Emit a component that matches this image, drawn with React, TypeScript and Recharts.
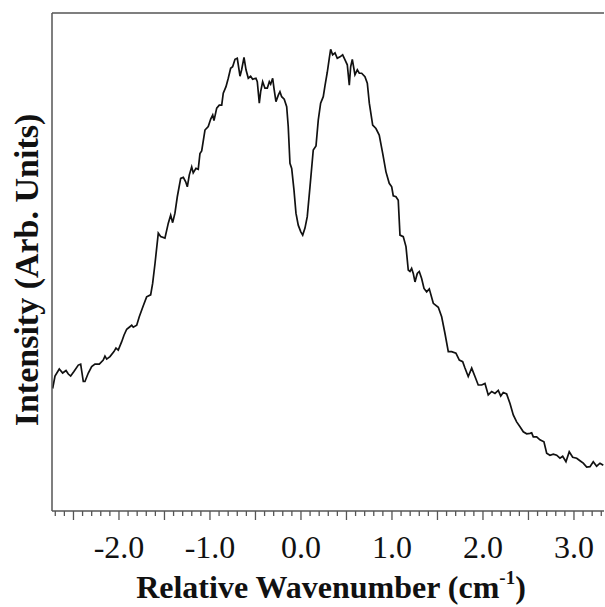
import { LineChart, Line, XAxis, YAxis, ReferenceLine } from 'recharts';

// relative wavenumber (cm^-1)
const wavenumber = [
  -2.729, -2.703, -2.656, -2.619, -2.582, -2.557, -2.531, -2.495, -2.447, -2.421,
  -2.392, -2.374, -2.337, -2.3, -2.264, -2.216, -2.173, -2.154, -2.135, -2.099,
  -2.055, -2.033, -2.008, -1.97, -1.945, -1.915, -1.887, -1.86, -1.843, -1.805,
  -1.777, -1.733, -1.696, -1.652, -1.63, -1.604, -1.568, -1.542, -1.495, -1.458,
  -1.432, -1.41, -1.385, -1.359, -1.322, -1.293, -1.267, -1.249, -1.227, -1.201,
  -1.184, -1.154, -1.129, -1.11, -1.091, -1.055, -1.019, -0.992, -0.97, -0.956,
  -0.926, -0.898, -0.871, -0.854, -0.824, -0.799, -0.773, -0.751, -0.725, -0.7,
  -0.67, -0.652, -0.626, -0.604, -0.579, -0.553, -0.531, -0.495, -0.48, -0.458,
  -0.443, -0.421, -0.396, -0.37, -0.348, -0.333, -0.311, -0.297, -0.275, -0.249,
  -0.231, -0.212, -0.184, -0.157, -0.14, -0.121, -0.102, -0.077, -0.055, -0.03,
  -0.003, 0.019, 0.044, 0.069, 0.099, 0.135, 0.165, 0.19, 0.216, 0.245,
  0.264, 0.289, 0.311, 0.326, 0.348, 0.374, 0.399, 0.429, 0.458, 0.484,
  0.509, 0.531, 0.546, 0.564, 0.593, 0.619, 0.641, 0.667, 0.703, 0.729,
  0.751, 0.788, 0.824, 0.86, 0.898, 0.934, 0.97, 0.997, 1.014, 1.044,
  1.069, 1.088, 1.124, 1.154, 1.179, 1.198, 1.216, 1.234, 1.253, 1.278,
  1.3, 1.326, 1.352, 1.381, 1.41, 1.454, 1.509, 1.546, 1.582, 1.619,
  1.656, 1.703, 1.74, 1.777, 1.802, 1.838, 1.876, 1.912, 1.948, 1.986,
  2.022, 2.058, 2.096, 2.132, 2.168, 2.195, 2.223, 2.26, 2.297, 2.333,
  2.37, 2.407, 2.443, 2.48, 2.516, 2.535, 2.553, 2.59, 2.626, 2.67,
  2.7, 2.736, 2.773, 2.81, 2.846, 2.876, 2.912, 2.948, 2.986, 3.03,
  3.066, 3.102, 3.14, 3.176, 3.212, 3.249, 3.286, 3.322,
];

// intensity, arbitrary units (0 = bottom of frame, 100 = top)
const intensity = [
  24.6, 27.1, 28.5, 27.7, 28.2, 27.5, 27.1, 28.0, 29.3, 29.5,
  26.0, 26.0, 27.7, 29.0, 29.5, 29.5, 30.3, 31.1, 30.5, 31.0,
  32.0, 32.7, 32.3, 34.0, 35.3, 36.5, 36.9, 37.3, 36.9, 37.3,
  39.0, 41.2, 43.0, 43.4, 45.7, 49.7, 55.8, 55.1, 54.8, 57.8,
  59.4, 57.9, 59.8, 63.1, 66.8, 67.0, 66.1, 65.1, 67.5, 69.1,
  67.9, 68.8, 68.6, 71.8, 72.3, 76.5, 77.2, 78.7, 79.5, 78.4,
  80.9, 81.5, 81.5, 83.9, 85.2, 86.9, 88.9, 89.2, 90.7, 90.9,
  87.3, 88.6, 91.1, 88.6, 86.9, 87.3, 86.7, 86.9, 86.2, 81.9,
  84.2, 86.2, 84.9, 84.9, 86.2, 85.7, 86.9, 84.9, 82.2, 83.5,
  84.2, 83.2, 82.7, 81.2, 77.2, 69.8, 68.8, 64.5, 59.8, 57.4,
  56.1, 55.4, 56.8, 59.1, 65.1, 72.5, 73.3, 78.5, 81.9, 83.2,
  85.4, 88.1, 90.9, 92.7, 91.6, 92.0, 90.9, 91.2, 91.6, 90.6,
  89.6, 85.5, 89.2, 90.7, 87.6, 88.6, 87.9, 87.9, 87.2, 85.9,
  81.9, 77.5, 76.8, 75.5, 71.8, 68.1, 65.8, 65.1, 63.3, 63.1,
  62.4, 55.4, 55.1, 53.1, 48.4, 48.1, 48.7, 47.7, 46.0, 47.7,
  48.1, 46.7, 44.7, 44.0, 44.6, 41.7, 40.9, 39.0, 35.7, 32.0,
  32.0, 31.7, 30.3, 30.0, 28.7, 27.0, 28.7, 27.0, 25.3, 25.3,
  25.6, 23.3, 24.0, 23.6, 24.2, 23.1, 23.8, 23.5, 21.6, 19.3,
  17.9, 16.9, 15.9, 15.5, 15.6, 15.7, 14.9, 14.9, 14.3, 13.9,
  11.6, 11.2, 11.4, 11.2, 10.6, 11.0, 9.9, 11.9, 10.8, 10.6,
  10.1, 9.6, 8.8, 8.9, 9.9, 9.0, 9.6, 9.2,
];

const xDomain = [-2.736, 3.33];
const yDomain = [0, 100];
// minor ticks every 0.1, longer ticks every 0.5, labels at whole numbers
const xTicks = Array.from({ length: 61 }, (_, i) => Math.round((-2.7 + i * 0.1) * 10) / 10);
const xLabels = [-2, -1, 0, 1, 2, 3];

const data = wavenumber.map((w, i) => ({ w, v: intensity[i] }));

const SERIF = '"Liberation Serif", "Times New Roman", serif';
const AXIS = '#555';

function XTick(props: any) {
  const { x, y, payload } = props;
  const v = payload.value as number;
  const half = Math.abs(v * 2 - Math.round(v * 2)) < 1e-6;
  const labelled = xLabels.some((l) => Math.abs(l - v) < 1e-6);
  return (
    <g>
      <line x1={x} x2={x} y1={y} y2={y + (half ? 9 : 5)} stroke={AXIS} strokeWidth={1.3} />
      {labelled && (
        <text x={x} y={y + 47} textAnchor="middle" fontFamily={SERIF} fontSize={32} fill="#111">
          {v.toFixed(1)}
        </text>
      )}
    </g>
  );
}

function XTitle(props: any) {
  const vb = props.viewBox || {};
  const cx = vb.x + vb.width / 2 + 3;
  return (
    <text x={cx} y={vb.y + 87} textAnchor="middle" fontFamily={SERIF} fontSize={32} fontWeight="bold" fill="#111">
      Relative Wavenumber (cm
      <tspan fontSize={19} dy={-14}>-1</tspan>
      <tspan dy={14}>)</tspan>
    </text>
  );
}

function YTitle(props: any) {
  const vb = props.viewBox || {};
  const cx = 38;
  const cy = vb.y + vb.height / 2 + 8;
  return (
    <text
      x={cx}
      y={cy}
      transform={`rotate(-90 ${cx} ${cy})`}
      textAnchor="middle"
      fontFamily={SERIF}
      fontSize={34}
      fontWeight="bold"
      fill="#111"
    >
      Intensity (Arb. Units)
    </text>
  );
}

export default function App() {
  return (
    <div style={{ position: 'absolute', left: 0, top: 0, background: '#fff' }}>
      <LineChart width={605} height={607} data={data} margin={{ top: 13, right: 1, left: 0, bottom: 0 }}>
        <XAxis
          dataKey="w"
          type="number"
          domain={xDomain}
          ticks={xTicks}
          interval={0}
          allowDataOverflow
          height={96}
          tickSize={0}
          tickMargin={0}
          tickLine={false}
          tick={<XTick />}
          axisLine={{ stroke: AXIS, strokeWidth: 1.5 }}
          label={<XTitle />}
        />
        <YAxis
          type="number"
          domain={yDomain}
          allowDataOverflow
          width={52}
          tick={false}
          tickLine={false}
          axisLine={{ stroke: AXIS, strokeWidth: 1.5 }}
          label={<YTitle />}
        />
        <ReferenceLine y={100} stroke={AXIS} strokeWidth={1.5} />
        <Line
          type="linear"
          dataKey="v"
          stroke="#111"
          strokeWidth={1.7}
          dot={false}
          isAnimationActive={false}
        />
      </LineChart>
    </div>
  );
}
